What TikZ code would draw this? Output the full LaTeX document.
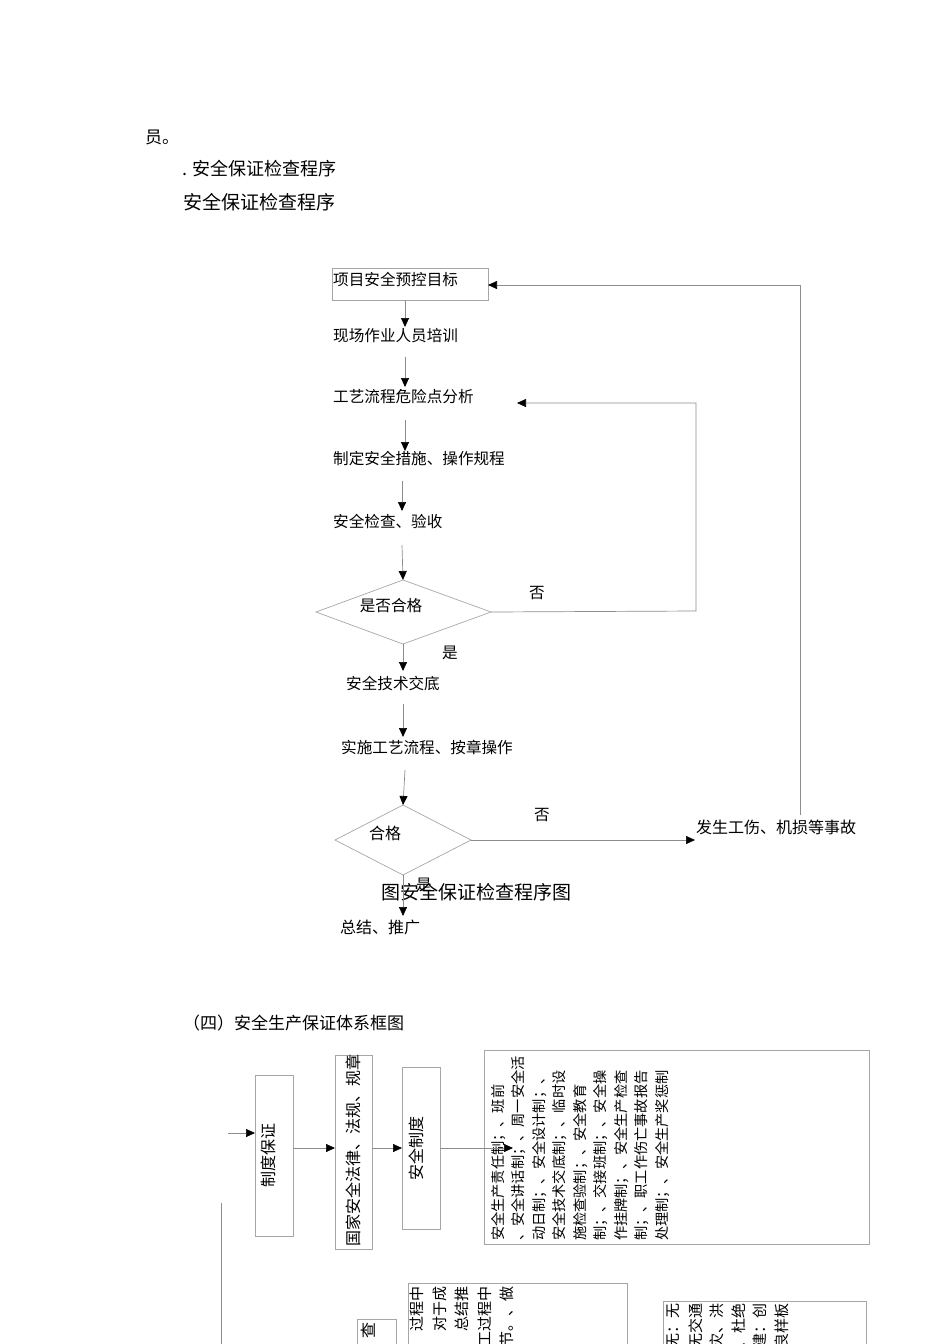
\documentclass[tikz,border=0pt]{standalone}
\usepackage{fontspec}
\setmainfont{Noto Sans CJK SC}
\usetikzlibrary{arrows.meta}
\begin{document}
\begin{tikzpicture}[x=1pt,y=-1pt,
  ln/.style={draw=black!45,line width=0.7pt},
  arr/.style={ln,-{Triangle[length=9pt,width=8pt,black]}},
  bx/.style={draw=black!35,line width=0.7pt},
  t/.style={anchor=west,inner sep=0pt,font=\fontsize{15.6}{15.6}\selectfont},
  rt/.style={rotate=90,inner sep=0pt,font=\fontsize{16}{16}\selectfont},
  lb/.style={inner sep=0pt,font=\fontsize{15.6}{15.6}\selectfont}]
\useasboundingbox (0,0) rectangle (950,1344);
\clip (0,0) rectangle (950,1344);
% header
\node[t,font=\fontsize{17}{17}\selectfont] (h0) at (145,137) {员。};
\node[t,font=\fontsize{18}{18}\selectfont] (h1) at (182,169) {. 安全保证检查程序};
\node[t,font=\fontsize{19}{19}\selectfont] (h2) at (183,202) {安全保证检查程序};
% flowchart
\draw[bx] (332,268) rectangle (488,300);
\node[t] (n1) at (333,279) {项目安全预控目标};
\node[t] (n2) at (333,336) {现场作业人员培训};
\node[t] (n3) at (333,397) {工艺流程危险点分析};
\node[t] (n4) at (333,459) {制定安全措施、操作规程};
\node[t] (n5) at (333,521) {安全检查、验收};
\draw[bx] (316,612) coordinate (d1w) -- (403,580) coordinate (d1n) -- (491,612) coordinate (d1e) -- (403,644) coordinate (d1s) -- cycle;
\node[lb] (d1) at (391,606) {是否合格};
\node[lb] (no1) at (537,593) {否};
\node[lb] (yes1) at (450,653) {是};
\node[t] (n6) at (346,684) {安全技术交底};
\node[t] (n7) at (341,747) {实施工艺流程、按章操作};
\draw[bx] (335,840) coordinate (d2w) -- (403,805) coordinate (d2n) -- (471,840) coordinate (d2e) -- (403,875) coordinate (d2s) -- cycle;
\node[lb,font=\fontsize{16}{16}\selectfont] (d2) at (385,833) {合格};
\node[lb] (no2) at (542,815) {否};
\node[t,font=\fontsize{16}{16}\selectfont] (acc) at (696,827) {发生工伤、机损等事故};
\node[lb,font=\fontsize{19}{19}\selectfont] (cap) at (476,892) {图安全保证检查程序图};
\node[lb] (yes2) at (424,885) {是};
\node[t,font=\fontsize{16}{16}\selectfont] (n8) at (340,927) {总结、推广};
\draw[arr] (405,300) -- (405,327);
\draw[arr] (405,357) -- (405,387);
\draw[arr] (405,420) -- (405,451);
\draw[arr] (402,481) -- (402,511);
\draw[arr] (402,545) -- (d1n);
\draw[arr] (d1e) -- (696,611) -- (696,403) -- (517,403);
\draw[arr] (d1s) -- (403,671);
\draw[arr] (403,704) -- (403,737);
\draw[arr] (405,770) -- (d2n);
\draw[arr] (d2e) -- (695,840);
\draw[arr] (800,815) -- (800,285) -- (488,285);
\draw[arr] (d2s) -- (403,916);
% section 4
\node[t,font=\fontsize{17}{17}\selectfont] (s4) at (183,1023) {（四）安全生产保证体系框图};
\draw[bx] (255,1075) rectangle (293,1236);
\node[rt] (z1) at (268,1155) {制度保证};
\draw[bx] (335,1055) rectangle (372,1249);
\node[rt,anchor=west] (z2) at (353,1247) {国家安全法律、法规、规章};
\draw[bx] (402,1067) rectangle (440,1229);
\node[rt] (z3) at (416,1148) {安全制度};
\draw[bx] (484,1050) rectangle (869,1244);
\foreach \i/\s in {0/安全生产责任制；、班前,1/、安全讲话制；、周一安全活,2/动日制；、安全设计制；、,3/安全技术交底制；、临时设,4/施检查验制；、安全教育,5/制；、交接班制；、安全操,6/作挂牌制；、安全生产检查,7/制；、职工作伤亡事故报告,8/处理制；、安全生产奖惩制}
  \node[rt,anchor=north west,font=\fontsize{14.2}{14.2}\selectfont] (zz\i) at (491+20.5*\i,1241) {\s};
\draw[arr] (228,1133) -- (255,1133);
\draw[arr] (293,1148) -- (335,1148);
\draw[arr] (372,1148) -- (402,1148);
\draw[arr] (440,1148) -- (513,1148);
\draw[ln] (221,1203) -- (221,1344);
% lower boxes (cut)
\draw[bx] (357,1400) -- (357,1319) -- (396,1319) -- (396,1400);
\node[rt,anchor=north east] (q1) at (361,1322) {查};
\draw[bx] (408,1400) -- (408,1283) -- (627,1283) -- (627,1400);
\foreach \i/\s in {0/过程中,1/对于成,2/总结推,3/工过程中,4/节。、做}
  \node[rt,anchor=north east,font=\fontsize{15}{15}\selectfont] (q2\i) at (410+22.5*\i,1286) {\s};
\draw[bx] (663,1400) -- (663,1301) -- (866,1301) -- (866,1400);
\foreach \i/\s in {0/无：无,1/无交通,2/灾、洪,3/、杜绝,4/建：创,5/良样板}
  \node[rt,anchor=north east,font=\fontsize{15}{15}\selectfont] (q3\i) at (667+21.5*\i,1303) {\s};
\end{tikzpicture}
\end{document}
